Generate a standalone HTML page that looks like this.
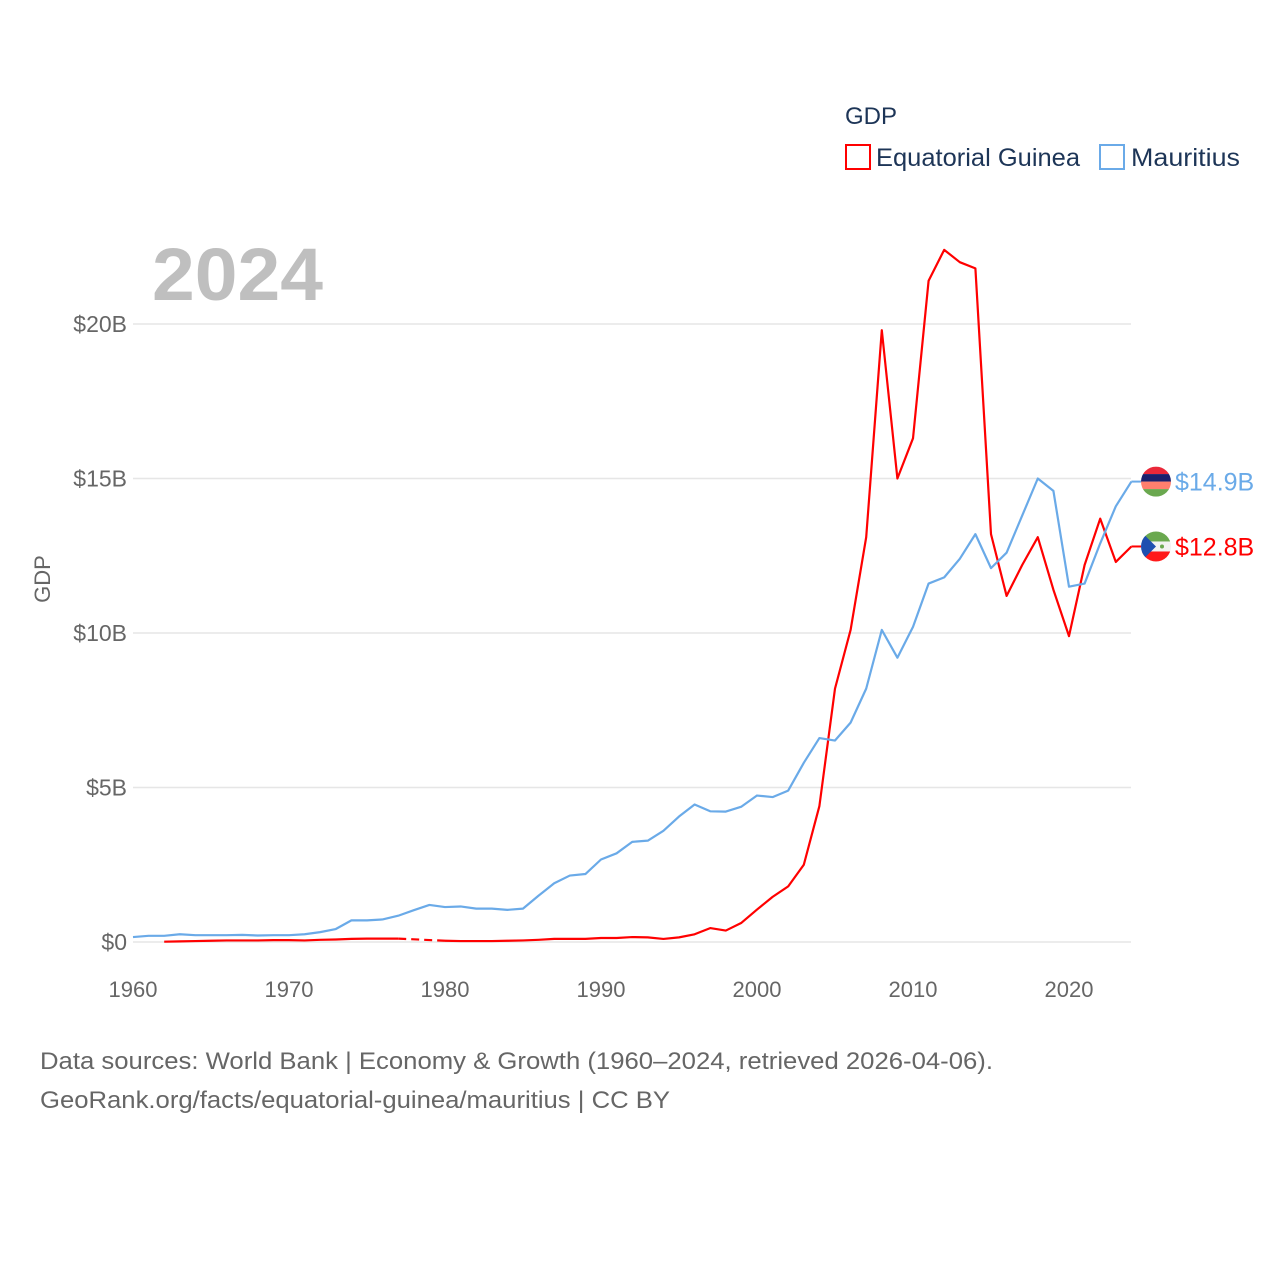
<!DOCTYPE html>
<html><head><meta charset="utf-8"><style>
html,body{margin:0;padding:0;background:#fff;}
svg{display:block;font-family:"Liberation Sans",sans-serif;}
</style></head><body>
<svg id="chart" width="1280" height="1280" viewBox="0 0 1280 1280" xmlns="http://www.w3.org/2000/svg">
<text x="845" y="124" font-size="24" fill="#1d3557">GDP</text>
<rect x="846" y="145" width="24" height="24" fill="none" stroke="#ff0000" stroke-width="2"/>
<text x="876" y="166" font-size="25" fill="#1d3557" textLength="204" lengthAdjust="spacingAndGlyphs">Equatorial Guinea</text>
<rect x="1100" y="145" width="24" height="24" fill="none" stroke="#6aaae8" stroke-width="2"/>
<text x="1131" y="166" font-size="25" fill="#1d3557" textLength="109" lengthAdjust="spacingAndGlyphs">Mauritius</text>
<text x="152" y="300" font-size="74" font-weight="bold" fill="#bfbfbf" textLength="171" lengthAdjust="spacingAndGlyphs">2024</text>
<text transform="translate(50,579) rotate(-90)" text-anchor="middle" font-size="22" fill="#666">GDP</text>
<g id="grid"></g><g id="series"></g>
<text x="40" y="1069" font-size="24" fill="#666" textLength="953" lengthAdjust="spacingAndGlyphs">Data sources: World Bank | Economy &amp; Growth (1960–2024, retrieved 2026-04-06).</text>
<text x="40" y="1108" font-size="24" fill="#666" textLength="630" lengthAdjust="spacingAndGlyphs">GeoRank.org/facts/equatorial-guinea/mauritius | CC BY</text>
</svg>
<script>
const years = [];
for (let y = 1960; y <= 2024; y++) years.push(y);
const mauritius = [0.16,0.2,0.2,0.25,0.22,0.22,0.22,0.23,0.21,0.22,0.22,0.25,0.32,0.42,0.7,0.7,0.73,0.85,1.03,1.2,1.13,1.15,1.08,1.08,1.04,1.08,1.5,1.9,2.15,2.2,2.67,2.87,3.24,3.28,3.6,4.06,4.45,4.23,4.22,4.38,4.74,4.69,4.9,5.8,6.6,6.52,7.1,8.2,10.1,9.2,10.2,11.6,11.8,12.4,13.2,12.1,12.6,13.8,15.0,14.6,11.5,11.6,12.9,14.1,14.9];
const eqGuinea = [null,null,0.01,0.02,0.03,0.04,0.05,0.05,0.05,0.06,0.06,0.05,0.07,0.08,0.1,0.11,0.11,0.11,null,null,0.04,0.03,0.03,0.03,0.04,0.05,0.07,0.1,0.1,0.1,0.13,0.13,0.16,0.15,0.1,0.15,0.25,0.45,0.37,0.62,1.05,1.46,1.8,2.5,4.4,8.2,10.1,13.1,19.8,15.0,16.3,21.4,22.4,22.0,21.8,13.2,11.2,12.2,13.1,11.4,9.9,12.2,13.7,12.3,12.8];
const yTicks = [0,5,10,15,20];
const yTickLabels = ["$0","$5B","$10B","$15B","$20B"];
const xTicks = [1960,1970,1980,1990,2000,2010,2020];

const NS = "http://www.w3.org/2000/svg";
const X = yr => 133 + (yr - 1960) * 15.6;
const Y = v => 942 - v * 30.9;
function mk(tag, attrs, parent){const e=document.createElementNS(NS,tag);for(const k in attrs)e.setAttribute(k,attrs[k]);parent.appendChild(e);return e;}
const grid = document.getElementById('grid'), ser = document.getElementById('series');

yTicks.forEach((t,i)=>{
  const l = mk('line',{x1:133,x2:1131,y1:Y(t),y2:Y(t),stroke:'#e6e6e6','stroke-width':1.5},grid);
  
  
  const tx = mk('text',{x:127,y:Y(t)+8,'text-anchor':'end','font-size':23,fill:'#666'},grid);
  tx.textContent = yTickLabels[i];
  
  
});
xTicks.forEach(t=>{
  const tx = mk('text',{x:X(t),y:997,'text-anchor':'middle','font-size':22,fill:'#666'},grid);
  tx.textContent = t;
  
  
});

function drawSeries(vals, color, name){
  let segs=[], cur=[], gaps=[], last=null;
  vals.forEach((v,i)=>{
    if(v===null){ if(cur.length){segs.push(cur);cur=[];} }
    else {
      if(last!==null && last.i!==i-1 && !cur.length) gaps.push([last,{i,v}]);
      cur.push([X(years[i]),Y(v)]); last={i,v};
    }
  });
  if(cur.length) segs.push(cur);
  segs.forEach(s=>{
    const p = mk('polyline',{points:s.map(q=>q.join(',')).join(' '),fill:'none',stroke:color,'stroke-width':2.2,'stroke-linejoin':'round'},ser);
    
    
  });
  gaps.forEach(g=>{
    const p = mk('line',{x1:X(years[g[0].i]),y1:Y(g[0].v),x2:X(years[g[1].i]),y2:Y(g[1].v),stroke:color,'stroke-width':2.2,'stroke-dasharray':'8,5'},ser);
    
    
  });
}
drawSeries(eqGuinea,'#ff0000','equatorial-guinea');
drawSeries(mauritius,'#6aaae8','mauritius');

function endLabel(vals,color,name,flagFn){
  const v = vals[vals.length-1], y = Y(v), x0 = X(2024);
  const c = mk('line',{x1:x0,y1:y,x2:x0+10,y2:y,stroke:color,'stroke-width':2},ser);
  
  
  const g = mk('g',{},ser);
  
  
  const id='clip-'+name;
  const cp = mk('clipPath',{id},g); mk('circle',{cx:1156,cy:y,r:15},cp);
  const inner = mk('g',{'clip-path':'url(#'+id+')'},g);
  flagFn(inner,y);
  const t = mk('text',{x:1175,y:y+9,'font-size':25,fill:color},ser);
  t.textContent = '$'+v.toFixed(1)+'B';
  
  
}
endLabel(mauritius,'#6aaae8','mauritius',(g,y)=>{
  const cols=['#ea2839','#1a206d','#ff7f6e','#6aa84f'];
  cols.forEach((c,i)=>mk('rect',{x:1141,y:y-15+i*7.5,width:30,height:7.6,fill:c},g));
});
endLabel(eqGuinea,'#ff0000','equatorial-guinea',(g,y)=>{
  mk('rect',{x:1141,y:y-15,width:30,height:10,fill:'#6aa84f'},g);
  mk('rect',{x:1141,y:y-5,width:30,height:10,fill:'#f2f2f2'},g);
  mk('rect',{x:1141,y:y+5,width:30,height:10,fill:'#ff1a1a'},g);
  mk('polygon',{points:`1141,${y-15} 1156,${y} 1141,${y+15}`,fill:'#1f4fb0'},g);
  mk('circle',{cx:1162,cy:y,r:2,fill:'#6aa84f'},g);
});
</script>
</body></html>
